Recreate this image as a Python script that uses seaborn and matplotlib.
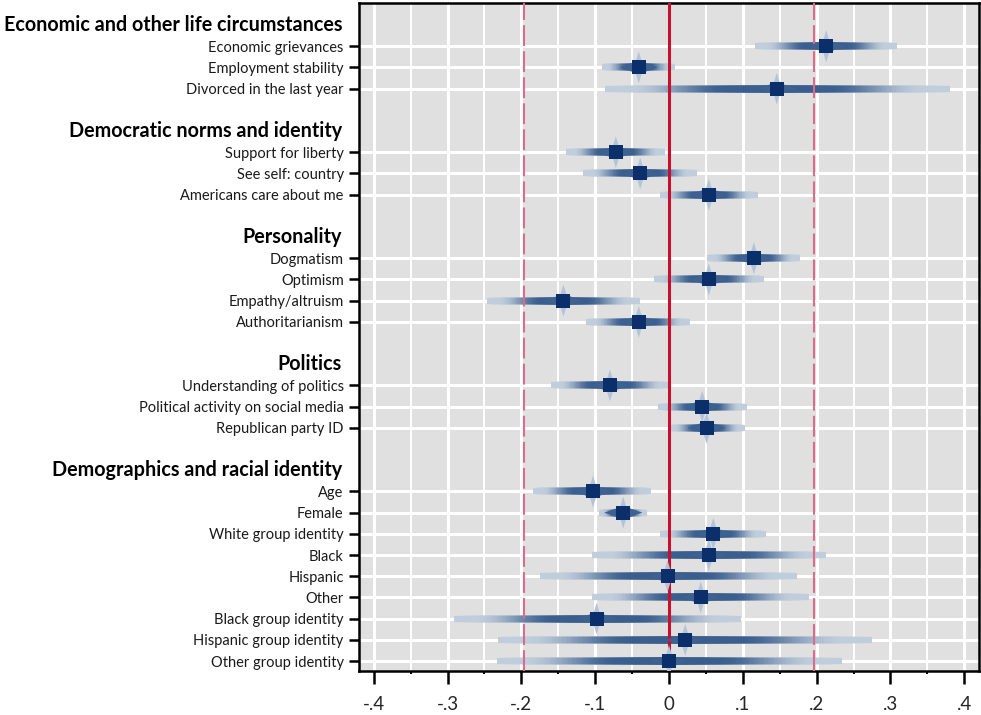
import numpy as np
import pandas as pd
import matplotlib
matplotlib.use("Agg")
import matplotlib.pyplot as plt
import matplotlib.transforms as mtransforms
from matplotlib.colors import to_rgb
import seaborn as sns

# ---------------- data ----------------
groups = [
    "Economic and other life circumstances",
    "Democratic norms and identity",
    "Personality",
    "Politics",
    "Demographics and racial identity",
]
group_sizes = [3, 3, 4, 3, 9]

labels = [
    "Economic grievances", "Employment stability", "Divorced in the last year",
    "Support for liberty", "See self: country", "Americans care about me",
    "Dogmatism", "Optimism", "Empathy/altruism", "Authoritarianism",
    "Understanding of politics", "Political activity on social media", "Republican party ID",
    "Age", "Female", "White group identity", "Black", "Hispanic", "Other",
    "Black group identity", "Hispanic group identity", "Other group identity",
]
estimate = [0.213, -0.041, 0.146,
            -0.072, -0.039, 0.054,
            0.115, 0.054, -0.143, -0.041,
            -0.080, 0.045, 0.051,
            -0.103, -0.062, 0.060, 0.054, -0.002, 0.043, -0.098, 0.022, 0.000]
ci_low = [0.117, -0.091, -0.087,
          -0.139, -0.116, -0.012,
          0.052, -0.021, -0.247, -0.112,
          -0.160, -0.015, 0.000,
          -0.184, -0.095, -0.012, -0.105, -0.175, -0.104, -0.291, -0.232, -0.233]
ci_high = [0.309, 0.008, 0.381,
           -0.005, 0.038, 0.120,
           0.178, 0.129, -0.039, 0.029,
           0.001, 0.105, 0.103,
           -0.024, -0.030, 0.131, 0.213, 0.173, 0.190, 0.097, 0.275, 0.234]

xticks = [-0.4, -0.3, -0.2, -0.1, 0.0, 0.1, 0.2, 0.3, 0.4]
xticklabels = ["-.4", "-.3", "-.2", "-.1", "0", ".1", ".2", ".3", ".4"]
ref_lines = [-0.196, 0.196]

# ---------------- layout of rows (slots) ----------------
header_pos = []
item_pos = []
slot = 0
for gi, n in enumerate(group_sizes):
    header_pos.append(slot)
    slot += 1
    for _ in range(n):
        item_pos.append(slot)
        slot += 1
    slot += 1  # blank line between groups

df = pd.DataFrame({"label": labels, "est": estimate, "lo": ci_low,
                   "hi": ci_high, "y": item_pos})

# ---------------- style ----------------
sns.set_style("white")
plt.rcParams["font.family"] = ["Lato", "DejaVu Sans"]

fig = plt.figure(figsize=(9.81, 7.15), dpi=100)
ax = fig.add_axes([359 / 981, 1 - 671 / 715, 620 / 981, 668 / 715])
ax.set_facecolor("#e0e0e0")

ax.set_xlim(-0.42, 0.42)
ax.set_ylim(30.47, -1.04)

ax.set_xticks(xticks)
ax.set_xticklabels(xticklabels, fontsize=13.5)
ax.set_xticks(np.arange(-0.4, 0.401, 0.05), minor=True)
ax.set_yticks(item_pos)
ax.set_yticklabels(labels, fontsize=10.5, color="#1a1a1a")

ax.grid(which="major", axis="both", color="white", linewidth=2.2, zorder=0)
ax.grid(which="minor", axis="x", color="white", linewidth=1.4, zorder=0)
ax.set_axisbelow(True)

ax.tick_params(axis="x", which="major", direction="out", length=9, width=1.8,
               pad=9, color="black", bottom=True)
ax.tick_params(axis="x", which="minor", direction="out", length=2.5, width=1.5,
               color="black", bottom=True)
ax.tick_params(axis="y", which="major", direction="out", length=7, width=1.8,
               pad=4, color="black", left=True)
for s in ax.spines.values():
    s.set_color("black")
    s.set_linewidth(1.8)

# ---------------- gradient confidence bars ----------------
light = np.array(to_rgb("#bfcddc"))
dark = np.array(to_rgb("#3a5e8e"))
N = 70
fracs = np.linspace(1.0, 0.0, N, endpoint=False)
ys, x0s, x1s, cols, lws = [], [], [], [], []
for f in fracs:
    t = np.clip((0.85 - f) / 0.55, 0, 1)
    t = t * t * (3 - 2 * t)
    c = light + (dark - light) * t
    for _, r in df.iterrows():
        ys.append(r["y"])
        x0s.append(r["est"] - f * (r["est"] - r["lo"]))
        x1s.append(r["est"] + f * (r["hi"] - r["est"]))
        cols.append(c)
        lws.append(4.4)
ax.hlines(ys, x0s, x1s, colors=cols, linewidths=lws, zorder=2,
          capstyle="butt")

# reference lines
ax.axvline(0, color="#c8102e", linewidth=2.2, zorder=3)
for v in ref_lines:
    ax.axvline(v, color="#dc6a88", linewidth=1.5, linestyle=(0, (10, 2.5)),
               zorder=3)

# spindle markers around the estimate
vert_spindle = [(0, 16), (3.0, 6), (3.0, -6), (0, -16), (-3.0, -6), (-3.0, 6), (0, 16)]
horiz_spindle = [(-19, 0), (-7, 4.2), (7, 4.2), (19, 0), (7, -4.2), (-7, -4.2), (-19, 0)]
px2pt = 72 / 100
sns.scatterplot(data=df, x="est", y="y", marker=vert_spindle, s=(32 * px2pt) ** 2,
                color="#b3c4d8", edgecolor="none", linewidth=0, ax=ax, zorder=4,
                legend=False)
sns.scatterplot(data=df, x="est", y="y", marker=horiz_spindle, s=(38 * px2pt) ** 2,
                color="#3d6191", edgecolor="none", linewidth=0, ax=ax, zorder=4,
                legend=False)
sns.scatterplot(data=df, x="est", y="y", marker="s", s=(14 * px2pt) ** 2,
                color="#0a2f6b", edgecolor="none", linewidth=0, ax=ax, zorder=5,
                legend=False)

ax.set_xlabel("")
ax.set_ylabel("")

# group headers
trans = mtransforms.blended_transform_factory(ax.transAxes, ax.transData)
for g, p in zip(groups, header_pos):
    ax.text(-17 / 620, p, g, transform=trans, ha="right", va="center",
            fontsize=14.2, fontweight="bold", color="black")

fig.savefig("out.png", dpi=100)
